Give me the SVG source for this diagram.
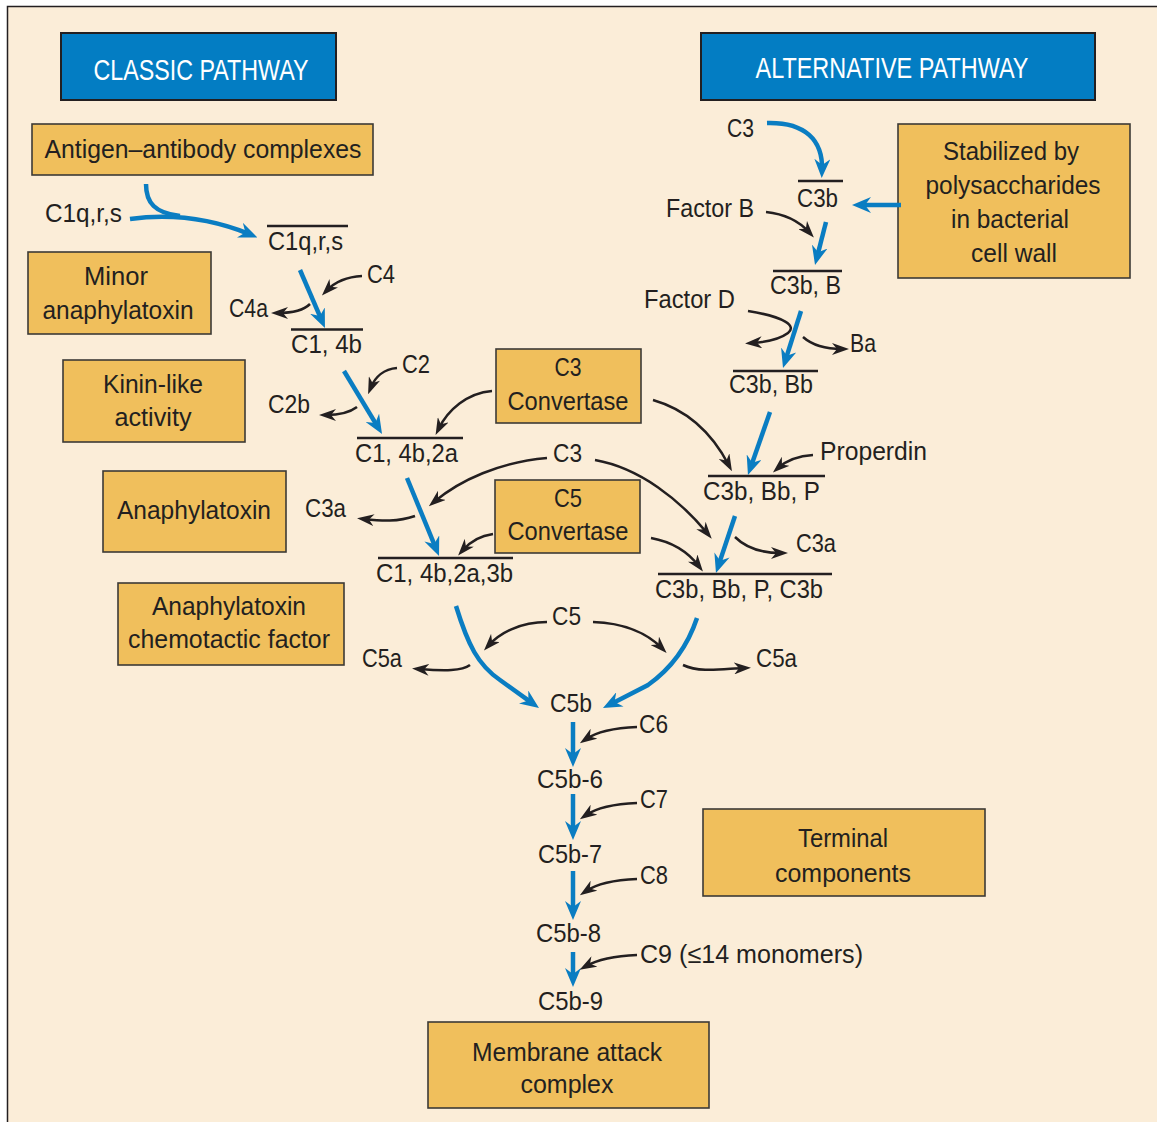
<svg xmlns="http://www.w3.org/2000/svg" width="1157" height="1122" viewBox="0 0 1157 1122">
<defs>
<style>
text{font-family:"Liberation Sans",Arial,sans-serif;font-size:26px;fill:#231F20}
.hdr{fill:#037DC3;stroke:#231F20;stroke-width:2}
.hdt{fill:#fff;font-size:29px}
.box{fill:#F0BF5C;stroke:#3C3A36;stroke-width:1.6}
.ol{stroke:#231F20;stroke-width:2.4}
.b{fill:none;stroke:#0A7DC2;stroke-width:4.5;marker-end:url(#ab)}
.k{fill:none;stroke:#231F20;stroke-width:2.5;marker-end:url(#ak)}
.bn{fill:none;stroke:#0A7DC2;stroke-width:4.5}
</style>
<marker id="ab" markerUnits="userSpaceOnUse" markerWidth="19" markerHeight="16" refX="11" refY="8" orient="auto"><path d="M0,0 L19,8 L0,16 L6,8 Z" fill="#0A7DC2"/></marker>
<marker id="ak" markerUnits="userSpaceOnUse" markerWidth="17" markerHeight="12" refX="10" refY="6" orient="auto"><path d="M0,0 L17,6 L0,12 L5,6 Z" fill="#231F20"/></marker>
</defs>
<rect x="0" y="0" width="1157" height="1122" fill="#fff"/>
<rect x="8" y="7" width="1149" height="1115" fill="#FBEDD8"/>
<path d="M7.5,1122 V6.5 H1157" fill="none" stroke="#231F20" stroke-width="1.5"/>

<g id="classic"><rect class="hdr" x="61" y="33" width="275" height="67"/><text class="hdt" x="201" y="80" text-anchor="middle" textLength="215" lengthAdjust="spacingAndGlyphs">CLASSIC PATHWAY</text></g>
<g id="alternative"><rect class="hdr" x="701" y="33" width="394" height="67"/><text class="hdt" x="892" y="78" text-anchor="middle" textLength="273" lengthAdjust="spacingAndGlyphs">ALTERNATIVE PATHWAY</text></g>

<g id="antigen"><rect class="box" x="32" y="124" width="341" height="51"/><text x="203" y="158" text-anchor="middle" textLength="317" lengthAdjust="spacingAndGlyphs">Antigen–antibody complexes</text></g>
<g id="minor"><rect class="box" x="28" y="252" width="183" height="82"/><text x="116" y="285" text-anchor="middle" textLength="64" lengthAdjust="spacingAndGlyphs">Minor</text><text x="118" y="319" text-anchor="middle" textLength="151" lengthAdjust="spacingAndGlyphs">anaphylatoxin</text></g>
<g id="kinin"><rect class="box" x="63" y="360" width="182" height="82"/><text x="153" y="393" text-anchor="middle" textLength="100" lengthAdjust="spacingAndGlyphs">Kinin-like</text><text x="153" y="426" text-anchor="middle" textLength="77" lengthAdjust="spacingAndGlyphs">activity</text></g>
<g id="anaphylatoxin"><rect class="box" x="103" y="471" width="183" height="81"/><text x="194" y="519" text-anchor="middle" textLength="154" lengthAdjust="spacingAndGlyphs">Anaphylatoxin</text></g>
<g id="chemotactic"><rect class="box" x="118" y="583" width="226" height="82"/><text x="229" y="615" text-anchor="middle" textLength="154" lengthAdjust="spacingAndGlyphs">Anaphylatoxin</text><text x="229" y="648" text-anchor="middle" textLength="202" lengthAdjust="spacingAndGlyphs">chemotactic factor</text></g>
<g id="c3conv"><rect class="box" x="496" y="349" width="145" height="74"/><text x="568" y="376" text-anchor="middle" textLength="27" lengthAdjust="spacingAndGlyphs">C3</text><text x="568" y="410" text-anchor="middle" textLength="121" lengthAdjust="spacingAndGlyphs">Convertase</text></g>
<g id="c5conv"><rect class="box" x="495" y="480" width="145" height="73"/><text x="568" y="507" text-anchor="middle" textLength="28" lengthAdjust="spacingAndGlyphs">C5</text><text x="568" y="540" text-anchor="middle" textLength="121" lengthAdjust="spacingAndGlyphs">Convertase</text></g>
<g id="stabilized"><rect class="box" x="898" y="124" width="232" height="154"/><text x="1011" y="160" text-anchor="middle" textLength="136" lengthAdjust="spacingAndGlyphs">Stabilized by</text><text x="1013" y="194" text-anchor="middle" textLength="175" lengthAdjust="spacingAndGlyphs">polysaccharides</text><text x="1010" y="228" text-anchor="middle" textLength="118" lengthAdjust="spacingAndGlyphs">in bacterial</text><text x="1014" y="262" text-anchor="middle" textLength="86" lengthAdjust="spacingAndGlyphs">cell wall</text></g>
<g id="terminal"><rect class="box" x="703" y="809" width="282" height="87"/><text x="843" y="847" text-anchor="middle" textLength="90" lengthAdjust="spacingAndGlyphs">Terminal</text><text x="843" y="882" text-anchor="middle" textLength="136" lengthAdjust="spacingAndGlyphs">components</text></g>
<g id="mac"><rect class="box" x="428" y="1022" width="281" height="86"/><text x="567" y="1061" text-anchor="middle" textLength="190" lengthAdjust="spacingAndGlyphs">Membrane attack</text><text x="567" y="1093" text-anchor="middle" textLength="93" lengthAdjust="spacingAndGlyphs">complex</text></g>

<g id="labels">
<text x="45" y="222" textLength="77" lengthAdjust="spacingAndGlyphs">C1q,r,s</text>
<g id="c1qrs"><line class="ol" x1="267" y1="226" x2="348" y2="226"/><text x="268" y="250" textLength="75" lengthAdjust="spacingAndGlyphs">C1q,r,s</text></g>
<text x="367" y="283" textLength="28" lengthAdjust="spacingAndGlyphs">C4</text>
<text x="229" y="317" textLength="39" lengthAdjust="spacingAndGlyphs">C4a</text>
<g id="c14b"><line class="ol" x1="291" y1="329.5" x2="363" y2="329.5"/><text x="291" y="353" textLength="71" lengthAdjust="spacingAndGlyphs">C1, 4b</text></g>
<text x="402" y="373" textLength="28" lengthAdjust="spacingAndGlyphs">C2</text>
<text x="268" y="413" textLength="42" lengthAdjust="spacingAndGlyphs">C2b</text>
<g id="c14b2a"><line class="ol" x1="357" y1="438" x2="463" y2="438"/><text x="355" y="462" textLength="103" lengthAdjust="spacingAndGlyphs">C1, 4b,2a</text></g>
<text x="553" y="462" textLength="29" lengthAdjust="spacingAndGlyphs">C3</text>
<text x="305" y="517" textLength="41" lengthAdjust="spacingAndGlyphs">C3a</text>
<g id="c14b2a3b"><line class="ol" x1="378" y1="558" x2="513" y2="558"/><text x="376" y="582" textLength="137" lengthAdjust="spacingAndGlyphs">C1, 4b,2a,3b</text></g>
<text x="727" y="137" textLength="27" lengthAdjust="spacingAndGlyphs">C3</text>
<g id="c3b"><line class="ol" x1="798" y1="181" x2="843" y2="181"/><text x="797" y="207" textLength="41" lengthAdjust="spacingAndGlyphs">C3b</text></g>
<text x="666" y="217" textLength="88" lengthAdjust="spacingAndGlyphs">Factor B</text>
<g id="c3bB"><line class="ol" x1="773" y1="271" x2="842" y2="271"/><text x="770" y="294" textLength="71" lengthAdjust="spacingAndGlyphs">C3b, B</text></g>
<text x="644" y="308" textLength="91" lengthAdjust="spacingAndGlyphs">Factor D</text>
<text x="850" y="352" textLength="26" lengthAdjust="spacingAndGlyphs">Ba</text>
<g id="c3bBb"><line class="ol" x1="733" y1="371" x2="818" y2="371"/><text x="729" y="393" textLength="84" lengthAdjust="spacingAndGlyphs">C3b, Bb</text></g>
<text x="820" y="460" textLength="107" lengthAdjust="spacingAndGlyphs">Properdin</text>
<g id="c3bBbP"><line class="ol" x1="708" y1="476" x2="825" y2="476"/><text x="703" y="500" textLength="117" lengthAdjust="spacingAndGlyphs">C3b, Bb, P</text></g>
<text x="796" y="552" textLength="40" lengthAdjust="spacingAndGlyphs">C3a</text>
<g id="c3bBbPC3b"><line class="ol" x1="658" y1="574" x2="832" y2="574"/><text x="655" y="598" textLength="168" lengthAdjust="spacingAndGlyphs">C3b, Bb, P, C3b</text></g>
<text x="552" y="625" textLength="29" lengthAdjust="spacingAndGlyphs">C5</text>
<text x="362" y="667" textLength="40" lengthAdjust="spacingAndGlyphs">C5a</text>
<text x="756" y="667" textLength="41" lengthAdjust="spacingAndGlyphs">C5a</text>
<text x="550" y="712" textLength="42" lengthAdjust="spacingAndGlyphs">C5b</text>
<text x="639" y="733" textLength="29" lengthAdjust="spacingAndGlyphs">C6</text>
<text x="537" y="788" textLength="66" lengthAdjust="spacingAndGlyphs">C5b-6</text>
<text x="640" y="808" textLength="28" lengthAdjust="spacingAndGlyphs">C7</text>
<text x="538" y="863" textLength="64" lengthAdjust="spacingAndGlyphs">C5b-7</text>
<text x="640" y="884" textLength="28" lengthAdjust="spacingAndGlyphs">C8</text>
<text x="536" y="942" textLength="65" lengthAdjust="spacingAndGlyphs">C5b-8</text>
<text x="640" y="963" textLength="223" lengthAdjust="spacingAndGlyphs">C9 (≤14 monomers)</text>
<text x="538" y="1010" textLength="65" lengthAdjust="spacingAndGlyphs">C5b-9</text>
</g>

<g id="connectors">
<path class="b" d="M130,219 C175,213 215,220 250,234.4"/>
<path class="bn" d="M146,184 C146,203 155,213 180,216"/>
<path class="b" d="M300,270 L321.8,320.7"/>
<path class="b" d="M344,371 L377.9,427.2"/>
<path class="b" d="M407,478 L436,548.6"/>
<path class="b" d="M767,123 C805,122 823,140 822,170"/>
<path class="b" d="M901,205 L860,205"/>
<path class="b" d="M826,222 L817,257.2"/>
<path class="b" d="M801,311 L785.4,360.4"/>
<path class="b" d="M770,412 L750.6,467.4"/>
<path class="b" d="M735,516 L718.5,565.4"/>
<path class="b" d="M456,606 C468,645 478,665 500,680 L532.5,703.4"/>
<path class="b" d="M697,618 C688,645 672,668 648,685 L610.1,704.4"/>
<path class="b" d="M573,722 L573,759"/>
<path class="b" d="M573,794 L573,832"/>
<path class="b" d="M573,871 L573,912"/>
<path class="b" d="M573,952 L573,979"/>

<path class="k" d="M362,276 C345,277 334,283 326.8,290.4"/>
<path class="k" d="M310,304 C304,310 294,313 278,313"/>
<path class="k" d="M397,368 C384,369 375,377 370.7,387.7"/>
<path class="k" d="M357,407 C349,413 338,415 326,415"/>
<path class="k" d="M492,391 C467,393 448,410 438.7,428.7"/>
<path class="k" d="M653,400 C688,410 713,435 728.7,465"/>
<path class="k" d="M547,458 C500,462 460,480 434.2,501.8"/>
<path class="k" d="M415,516 C398,522 382,521 364,519"/>
<path class="k" d="M595,460 C640,468 680,500 707.3,533.3"/>
<path class="k" d="M493,534 C478,536 469,543 462.7,550.3"/>
<path class="k" d="M651,538 C673,542 688,552 698.7,566"/>
<path class="k" d="M813,455 C797,456 786,461 778.2,467.8"/>
<path class="k" d="M735,537 C746,548 760,553 781,553"/>
<path class="k" d="M766,212 C785,214 799,221 809.2,232.4"/>
<path class="k" d="M748,311 C785,317 797,326 788,333 C780,339 767,342 752,343"/>
<path class="k" d="M803,337 C812,345 825,349 842,349"/>
<path class="k" d="M547,622 C520,622 500,633 488.7,645.3"/>
<path class="k" d="M470,665 C462,671 445,671 419,669"/>
<path class="k" d="M593,622 C625,623 648,634 661.7,648"/>
<path class="k" d="M683,665 C700,673 722,669 744,668"/>
<path class="k" d="M637,727 C612,728 595,733 585.7,739.3"/>
<path class="k" d="M637,803 C612,804 595,809 585.7,815.3"/>
<path class="k" d="M637,879 C612,880 595,885 585.7,891.3"/>
<path class="k" d="M637,955 C612,956 595,961 585.7,966.3"/>
</g>
</svg>
